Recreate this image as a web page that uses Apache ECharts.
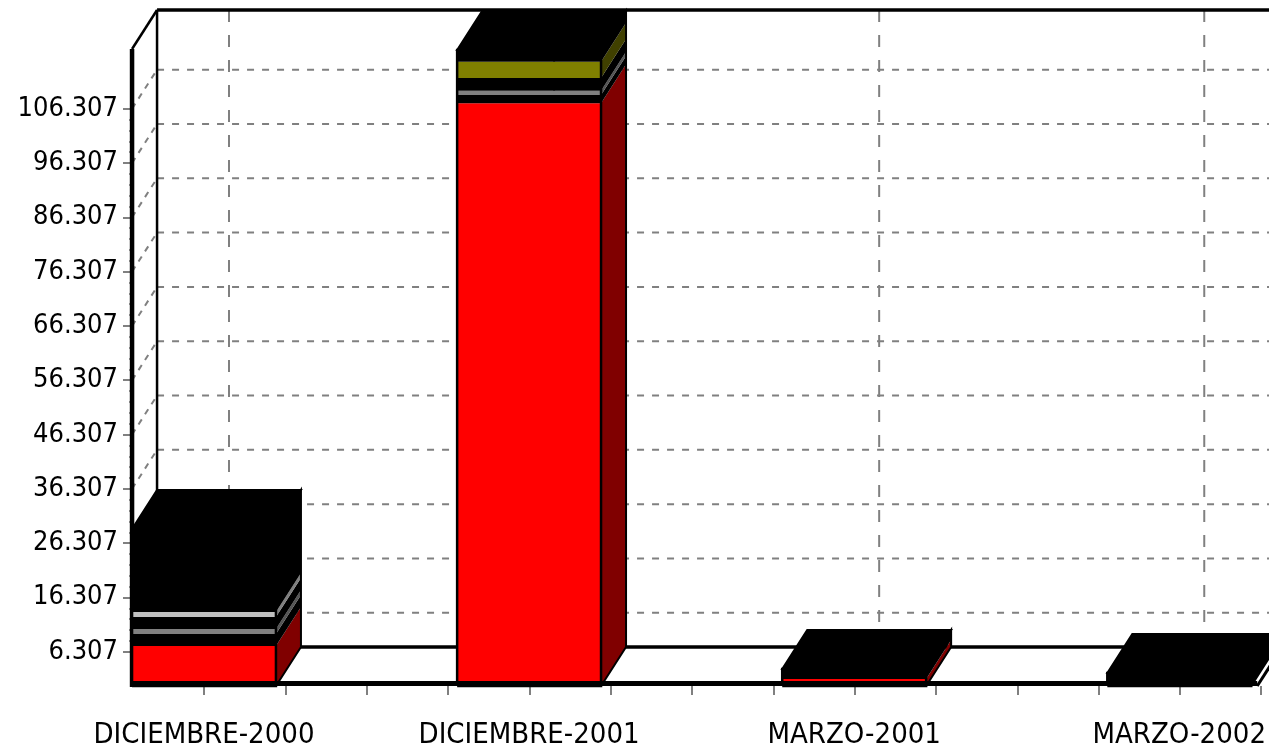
<!DOCTYPE html>
<html>
<head>
<meta charset="utf-8">
<script src="https://cdn.jsdelivr.net/npm/echarts@6/dist/echarts.min.js"></script>
<style>
html,body{margin:0;padding:0;background:#ffffff;}
#chart{width:1269px;height:750px;}
</style>
</head>
<body>
<div id="chart"></div>
<script>
// ---------------- data ----------------
const categories = ['DICIEMBRE-2000', 'DICIEMBRE-2001', 'MARZO-2001', 'MARZO-2002'];
const yTickValues = [6.307, 16.307, 26.307, 36.307, 46.307, 56.307, 66.307, 76.307, 86.307, 96.307, 106.307];
const yTickLabels = ['6.307', '16.307', '26.307', '36.307', '46.307', '56.307', '66.307', '76.307', '86.307', '96.307', '106.307'];
// stacked segments, bottom to top
const rojo   = [7.37, 107.3, 1.3, 0];
const negroA = [2.2, 1.53, 0, 0];
const gris   = [0.92, 0.8, 0, 0];
const negroB = [2.2, 2.34, 0, 0];
const plata  = [0.92, 0, 0, 0];
const oliva  = [0, 3.0, 0, 0];
const negroC = [15.3, 2.15, 1.83, 2.4];

// ---------------- style / layout ----------------
const W = 1269;
const Y_MAX = 117.3;
const GRID_TOP = 49, GRID_BOTTOM = 64;
const BAND = 325.3;          // distance between category centres (px)
const BAR_W = 144;
const WALL_X = 132;
const DX = 25, DY = -39;
const CAT_LEFT = WALL_X + BAR_W / 2;
const PPU = (750 - GRID_TOP - GRID_BOTTOM) / Y_MAX;
const FONT = '"DejaVu Sans Condensed","Liberation Sans Narrow","Liberation Sans",sans-serif';
const GRAY = '#808080';

const segColors  = ['#ff0000', '#000000', '#808080', '#000000', '#c0c0c0', '#808000', '#000000'];
const sideColors = ['#800000', '#000000', '#555555', '#000000', '#808080', '#404000', '#000000'];

const barData = categories.map((c, i) => [i, rojo[i], negroA[i], gris[i], negroB[i], plata[i], oliva[i], negroC[i]]);

function barGeom(api, i) {
  const band = api.coord([1, 0])[0] - api.coord([0, 0])[0];
  const bw = band * (BAR_W / BAND);
  const base = api.coord([i, 0]);
  return { x0: base[0] - bw / 2, x1: base[0] + bw / 2, y0: base[1], bw: bw, band: band, cx: base[0] };
}

function renderBar(params, api) {
  const i = api.value(0);
  const g = barGeom(api, i);
  const children = [];
  let cum = 0;
  let topColor = '#000';
  for (let k = 0; k < segColors.length; k++) {
    const v = api.value(k + 1);
    if (!(v > 0)) continue;
    const yb = api.coord([i, cum])[1];
    cum += v;
    const yt = api.coord([i, cum])[1];
    children.push({ type: 'rect', shape: { x: g.x0, y: yt, width: g.bw, height: yb - yt }, style: { fill: segColors[k] } });
    children.push({ type: 'polygon', shape: { points: [[g.x1, yb], [g.x1 + DX, yb + DY], [g.x1 + DX, yt + DY], [g.x1, yt]] }, style: { fill: sideColors[k] } });
    topColor = segColors[k];
  }
  const yTop = api.coord([i, cum])[1];
  children.push({ type: 'polygon', shape: { points: [[g.x0, yTop], [g.x0 + DX, yTop + DY], [g.x1 + DX, yTop + DY], [g.x1, yTop]] }, style: { fill: topColor, stroke: '#000', lineWidth: 2 } });
  children.push({ type: 'polyline', shape: { points: [[g.x0, g.y0], [g.x0, yTop], [g.x1, yTop], [g.x1, g.y0], [g.x0, g.y0]] }, style: { fill: null, stroke: '#000', lineWidth: 2.5 } });
  children.push({ type: 'polyline', shape: { points: [[g.x1, g.y0], [g.x1 + DX, g.y0 + DY], [g.x1 + DX, yTop + DY], [g.x1, yTop]] }, style: { fill: null, stroke: '#000', lineWidth: 2 } });
  return { type: 'group', children: children };
}

// horizontal gridlines on back wall + dashed diagonals on left wall
function renderHGrid(params, api) {
  const v = api.value(1);
  const g = barGeom(api, 0);
  const wx = g.x0;
  const y = api.coord([0, v])[1];
  return {
    type: 'group', children: [
      { type: 'line', shape: { x1: wx + DX, y1: y + DY, x2: W + 40, y2: y + DY }, style: { stroke: GRAY, lineWidth: 2, lineDash: [7, 8] } },
      { type: 'line', shape: { x1: wx, y1: y, x2: wx + DX, y2: y + DY }, style: { stroke: GRAY, lineWidth: 2, lineDash: [6, 6] } }
    ]
  };
}

// vertical gridlines on back wall at category centres
function renderVGrid(params, api) {
  const i = api.value(0);
  const top = api.coord([i, Y_MAX]);
  const bot = api.coord([i, 0]);
  return { type: 'line', shape: { x1: top[0] + DX, y1: top[1] + DY, x2: bot[0] + DX, y2: bot[1] + DY }, style: { stroke: GRAY, lineWidth: 2, lineDash: [12, 13] } };
}

// walls and floor back
function renderFrame(params, api) {
  const g = barGeom(api, 0);
  const wx = g.x0;
  const y0 = g.y0;
  const yT = api.coord([0, Y_MAX])[1];
  return {
    type: 'group', children: [
      { type: 'line', shape: { x1: wx + DX, y1: yT + DY, x2: W + 40, y2: yT + DY }, style: { stroke: '#000', lineWidth: 3.5 } },
      { type: 'line', shape: { x1: wx + DX, y1: y0 + DY, x2: W + 40, y2: y0 + DY }, style: { stroke: '#000', lineWidth: 3.5 } },
      { type: 'line', shape: { x1: wx + DX, y1: yT + DY, x2: wx + DX, y2: y0 + DY }, style: { stroke: '#000', lineWidth: 2.5 } },
      { type: 'line', shape: { x1: wx, y1: yT, x2: wx + DX, y2: yT + DY }, style: { stroke: '#000', lineWidth: 2.5 } },
      { type: 'line', shape: { x1: wx, y1: y0 + 1, x2: wx, y2: yT }, style: { stroke: '#000', lineWidth: 4.5 } }
    ]
  };
}

// floor front edge (drawn above bar bottoms)
function renderFloorFront(params, api) {
  const g0 = barGeom(api, 0);
  const gL = barGeom(api, categories.length - 1);
  const xR = gL.x1 + 6;
  const y0 = g0.y0;
  return {
    type: 'group', children: [
      { type: 'line', shape: { x1: g0.x0, y1: y0 - 2.5, x2: xR, y2: y0 - 2.5 }, style: { stroke: '#000', lineWidth: 5 } },
      { type: 'line', shape: { x1: xR, y1: y0, x2: xR + DX, y2: y0 + DY }, style: { stroke: '#000', lineWidth: 3 } }
    ]
  };
}

const labelGridTop = GRID_TOP + (Y_MAX - yTickValues[yTickValues.length - 1]) * PPU;
const labelGridBottom = GRID_BOTTOM + yTickValues[0] * PPU;

const option = {
  animation: false,
  backgroundColor: '#ffffff',
  grid: [
    { left: CAT_LEFT, width: BAND * (categories.length - 1), top: GRID_TOP, bottom: GRID_BOTTOM },
    { left: WALL_X, width: 20, top: labelGridTop, bottom: labelGridBottom },
    { left: CAT_LEFT, width: 13 * BAND / 4, top: GRID_TOP, bottom: GRID_BOTTOM }
  ],
  xAxis: [
    {
      gridIndex: 0, type: 'category', data: categories, boundaryGap: false,
      axisLine: { show: false }, axisTick: { show: false }, splitLine: { show: false },
      axisLabel: { interval: 0, margin: 35, fontSize: 29, lineHeight: 29, color: '#000', fontFamily: FONT }
    },
    { gridIndex: 1, type: 'value', show: false },
    {
      gridIndex: 2, type: 'value', min: 0, max: 13, interval: 1,
      axisLine: { show: false }, axisLabel: { show: false }, splitLine: { show: false },
      axisTick: { show: true, length: 9, lineStyle: { color: GRAY, width: 2 } }
    }
  ],
  yAxis: [
    { gridIndex: 0, type: 'value', min: 0, max: Y_MAX, show: false },
    {
      gridIndex: 1, type: 'value', min: 0, max: 100, interval: 10,
      axisLine: { show: false }, splitLine: { show: false },
      axisTick: { show: true, length: 9, lineStyle: { color: GRAY, width: 2 } },
      minorTick: { show: true, splitNumber: 5, length: 3, lineStyle: { color: '#a0a0a0', width: 2 } },
      axisLabel: {
        margin: 14, fontSize: 27, color: '#000', fontFamily: FONT,
        formatter: function (v) { return yTickLabels[Math.round(v / 10)]; }
      }
    },
    { gridIndex: 2, type: 'value', show: false }
  ],
  series: [
    { type: 'custom', xAxisIndex: 0, yAxisIndex: 0, z: 1, silent: true, clip: false, renderItem: renderHGrid, data: yTickValues.map(v => [0, v]) },
    { type: 'custom', xAxisIndex: 0, yAxisIndex: 0, z: 1, silent: true, clip: false, renderItem: renderVGrid, data: categories.map((c, i) => [i]) },
    { type: 'custom', xAxisIndex: 0, yAxisIndex: 0, z: 2, silent: true, clip: false, renderItem: renderFrame, data: [[0]] },
    { type: 'custom', xAxisIndex: 0, yAxisIndex: 0, z: 3, silent: true, clip: false, renderItem: renderBar, data: barData },
    { type: 'custom', xAxisIndex: 0, yAxisIndex: 0, z: 4, silent: true, clip: false, renderItem: renderFloorFront, data: [[0]] }
  ]
};

const chart = echarts.init(document.getElementById('chart'), null, { renderer: 'canvas' });
chart.setOption(option);
</script>
</body>
</html>
